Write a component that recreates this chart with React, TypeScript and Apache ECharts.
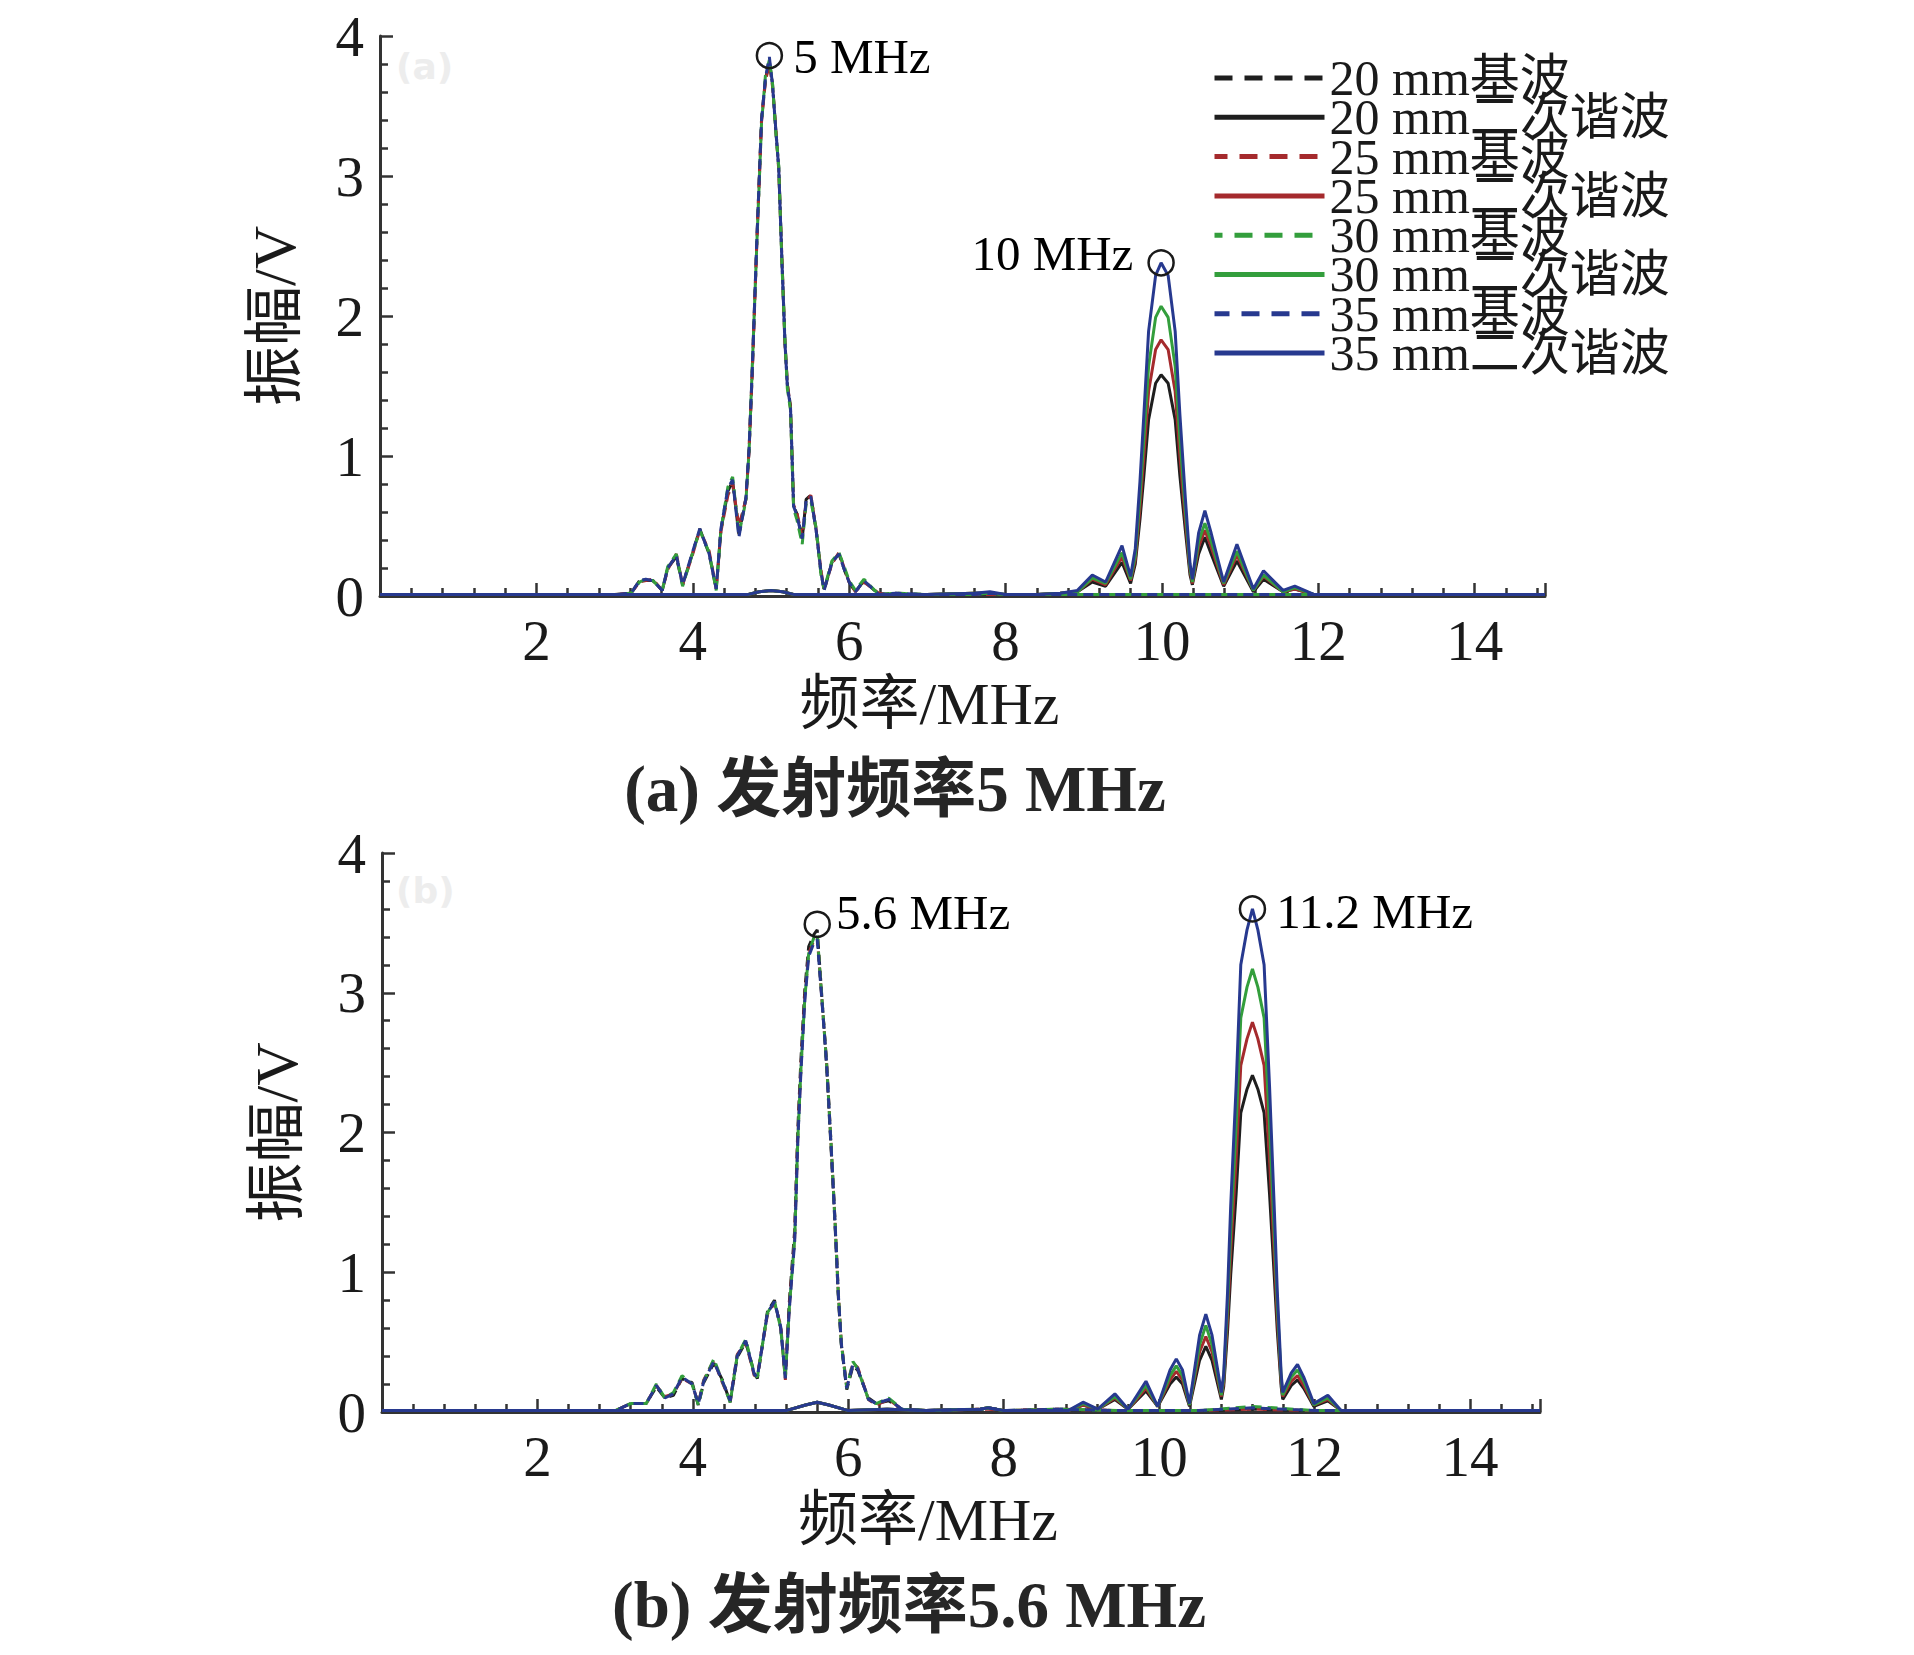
import React, { useEffect, useRef } from "react";
import * as echarts from "echarts";

const seriesNames = [
  "20 mm基波",
  "20 mm二次谐波",
  "25 mm基波",
  "25 mm二次谐波",
  "30 mm基波",
  "30 mm二次谐波",
  "35 mm基波",
  "35 mm二次谐波",
];
const seriesColors = ["#1e1e1e", "#1e1e1e", "#a52a2d", "#a52a2d", "#339e3c", "#339e3c", "#27398f", "#27398f"];

const xTicks = [2, 4, 6, 8, 10, 12, 14];
const yTicks = [0, 1, 2, 3, 4];

// ---------- Panel (a): transmit 5 MHz ----------
const fundFreqA = [0, 1.0, 2.0, 3.0, 3.21, 3.32, 3.4, 3.49, 3.61, 3.68, 3.79, 3.87, 4.0, 4.09, 4.21, 4.30, 4.36, 4.45, 4.51, 4.59, 4.68, 4.72, 4.76, 4.82, 4.88, 4.93, 4.98, 5.02, 5.06, 5.1, 5.14, 5.18, 5.21, 5.25, 5.29, 5.33, 5.40, 5.45, 5.51, 5.58, 5.64, 5.68, 5.78, 5.87, 5.95, 6.0, 6.08, 6.19, 6.38, 6.6, 7.0, 7.6, 7.8, 8.0, 8.6, 9.5, 10.0, 11.0, 12.0, 13.0, 14.9];
const fund20A = [0.01,0.01,0.01,0.01,0.02,0.11,0.11,0.11,0.04,0.2, 0.28,0.08,0.31,0.48,0.3,0.05,0.47,0.75,0.82,0.44, 0.7,1.04,1.59,2.54,3.41,3.69,3.82,3.66,3.34,3.06, 2.41,1.81,1.51,1.36,0.64,0.59,0.41,0.69,0.72,0.46, 0.17,0.04,0.24,0.3,0.17,0.1,0.03,0.11,0.01,0.02, 0.01,0.01,0.02,0.01,0.01,0.01,0.01,0.01,0.01,0.01, 0.01];
const fund25A = [0.01,0.01,0.01,0.01,0.02,0.1,0.11,0.12,0.04,0.19, 0.3,0.08,0.3,0.47,0.32,0.05,0.46,0.72,0.8,0.5, 0.69,1.04,1.58,2.53,3.39,3.68,3.8,3.64,3.36,3.04, 2.42,1.79,1.52,1.34,0.65,0.6,0.42,0.67,0.72,0.47, 0.18,0.05,0.23,0.31,0.18,0.1,0.03,0.1,0.02,0.01, 0.01,0.01,0.01,0.01,0.01,0.01,0.01,0.01,0.01,0.01, 0.01];
const fund30A = [0.01,0.01,0.01,0.01,0.02,0.1,0.12,0.11,0.04,0.21, 0.3,0.07,0.31,0.47,0.31,0.04,0.47,0.78,0.85,0.44, 0.68,1.03,1.62,2.52,3.38,3.72,3.83,3.66,3.33,3.07, 2.38,1.82,1.48,1.33,0.62,0.55,0.37,0.66,0.68,0.48, 0.15,0.05,0.25,0.31,0.19,0.11,0.04,0.12,0.01,0.02, 0.01,0.01,0.02,0.01,0.01,0.01,0.01,0.01,0.01,0.01, 0.01];
const fund35A = [0.01,0.01,0.01,0.01,0.02,0.11,0.12,0.11,0.04,0.2, 0.29,0.08,0.32,0.48,0.3,0.05,0.48,0.77,0.83,0.42, 0.7,1.05,1.6,2.55,3.4,3.7,3.85,3.65,3.35,3.05, 2.4,1.8,1.5,1.35,0.64,0.58,0.41,0.68,0.71,0.46, 0.17,0.04,0.24,0.3,0.17,0.1,0.03,0.11,0.01,0.02, 0.01,0.01,0.02,0.01,0.01,0.01,0.01,0.01,0.01,0.01, 0.01];

const harmFreqA = [0, 2.0, 4.0, 4.7, 4.85, 5.0, 5.15, 5.3, 5.6, 6.2, 7.0, 7.6, 7.8, 8.0, 8.4, 8.7, 8.92, 9.11, 9.28, 9.49, 9.6, 9.66, 9.72, 9.77, 9.83, 9.92, 9.99, 10.08, 10.17, 10.23, 10.30, 10.36, 10.39, 10.47, 10.55, 10.63, 10.79, 10.96, 11.17, 11.30, 11.55, 11.70, 11.95, 12.5, 13.5, 14.9];
const harm20A = [0.01,0.01,0.01,0.01,0.03,0.04,0.03,0.01,0.01,0.01, 0.01,0.02,0.02,0.01,0.01,0.02,0.03,0.1,0.07,0.24, 0.09,0.23,0.55,0.86,1.26,1.52,1.58,1.52,1.26,0.86, 0.47,0.15,0.08,0.3,0.42,0.3,0.07,0.25,0.03,0.12, 0.03,0.05,0.01,0.01,0.01,0.01];
const harm25A = [0.01,0.01,0.01,0.01,0.03,0.04,0.03,0.01,0.01,0.01, 0.01,0.02,0.02,0.01,0.01,0.02,0.03,0.12,0.08,0.28, 0.11,0.26,0.63,1.0,1.46,1.76,1.83,1.76,1.46,1.0, 0.54,0.18,0.09,0.35,0.47,0.35,0.08,0.29,0.04,0.14, 0.03,0.05,0.01,0.01,0.01,0.01];
const harm30A = [0.01,0.01,0.01,0.01,0.03,0.04,0.03,0.01,0.01,0.01, 0.01,0.02,0.02,0.01,0.01,0.02,0.03,0.13,0.09,0.31, 0.12,0.29,0.71,1.13,1.64,1.99,2.07,1.99,1.64,1.13, 0.61,0.2,0.1,0.39,0.52,0.39,0.09,0.32,0.04,0.15, 0.03,0.06,0.01,0.01,0.01,0.01];
const harm35A = [0.01,0.01,0.01,0.01,0.03,0.04,0.03,0.01,0.01,0.01, 0.01,0.02,0.03,0.01,0.01,0.02,0.04,0.15,0.1,0.36, 0.14,0.34,0.82,1.3,1.89,2.29,2.38,2.29,1.89,1.3, 0.7,0.23,0.12,0.45,0.61,0.45,0.1,0.37,0.05,0.18, 0.04,0.07,0.01,0.01,0.01,0.01];

const peakFreqA = [4.98, 9.99];
const peakAmpA = [3.86, 2.38];
const peakTextA = ["5 MHz", "10 MHz"];

// ---------- Panel (b): transmit 5.6 MHz ----------
const fundFreqB = [0, 1.0, 2.0, 3.0, 3.2, 3.4, 3.53, 3.64, 3.75, 3.86, 3.99, 4.07, 4.14, 4.27, 4.38, 4.48, 4.57, 4.68, 4.79, 4.83, 4.96, 5.05, 5.13, 5.19, 5.24, 5.31, 5.35, 5.39, 5.44, 5.49, 5.56, 5.60, 5.65, 5.72, 5.78, 5.83, 5.87, 5.91, 5.98, 6.06, 6.12, 6.26, 6.36, 6.52, 6.69, 7.0, 7.7, 7.8, 8.0, 8.7, 9.5, 10.5, 11.2, 12.0, 13.0, 14.9];
const fund20B = [0.01,0.01,0.01,0.01,0.06,0.06,0.18,0.1,0.12,0.24, 0.21,0.05,0.21,0.35,0.23,0.07,0.39,0.5,0.28,0.24, 0.72,0.8,0.6,0.25,0.78,1.3,2.02,2.52,3.02,3.33, 3.42,3.45,3.05,2.48,1.87,1.33,0.84,0.48,0.16,0.33, 0.3,0.1,0.06,0.08,0.02,0.01,0.02,0.03,0.01,0.02, 0.01,0.01,0.02,0.01,0.01,0.01];
const fund25B = [0.01,0.01,0.01,0.01,0.06,0.06,0.19,0.11,0.13,0.24, 0.2,0.06,0.23,0.37,0.21,0.08,0.41,0.5,0.26,0.26, 0.7,0.78,0.62,0.23,0.75,1.25,1.97,2.46,2.97,3.28, 3.38,3.4,3.03,2.51,1.9,1.36,0.87,0.5,0.18,0.35, 0.32,0.09,0.05,0.09,0.02,0.01,0.02,0.02,0.01,0.02, 0.01,0.01,0.02,0.01,0.01,0.01];
const fund30B = [0.01,0.01,0.01,0.01,0.06,0.06,0.2,0.1,0.14,0.26, 0.2,0.05,0.22,0.38,0.22,0.07,0.4,0.52,0.27,0.25, 0.71,0.79,0.6,0.24,0.74,1.24,1.95,2.45,2.96,3.28, 3.4,3.42,3.04,2.5,1.9,1.35,0.86,0.49,0.17,0.36, 0.31,0.09,0.06,0.1,0.02,0.01,0.02,0.03,0.01,0.02, 0.01,0.01,0.04,0.01,0.01,0.01];
const fund35B = [0.01,0.01,0.01,0.01,0.06,0.06,0.19,0.1,0.13,0.25, 0.2,0.06,0.22,0.36,0.22,0.08,0.4,0.51,0.27,0.25, 0.71,0.79,0.61,0.24,0.73,1.22,1.94,2.43,2.94,3.26, 3.36,3.38,3.02,2.5,1.89,1.35,0.86,0.49,0.17,0.34, 0.31,0.09,0.06,0.09,0.02,0.01,0.02,0.03,0.01,0.02, 0.01,0.01,0.03,0.01,0.01,0.01];

const harmFreqB = [0, 2.0, 4.0, 5.2, 5.45, 5.6, 5.75, 6.0, 6.5, 7.0, 7.7, 7.8, 8.0, 8.5, 8.83, 9.02, 9.21, 9.43, 9.6, 9.83, 9.98, 10.14, 10.22, 10.3, 10.39, 10.52, 10.6, 10.68, 10.8, 10.83, 10.88, 10.92, 10.99, 11.05, 11.13, 11.2, 11.27, 11.35, 11.42, 11.48, 11.52, 11.57, 11.59, 11.7, 11.78, 11.86, 11.99, 12.17, 12.34, 13.0, 14.9];
const harm20B = [0.01,0.01,0.01,0.01,0.05,0.07,0.05,0.01,0.02,0.01, 0.02,0.03,0.01,0.01,0.01,0.05,0.02,0.09,0.02,0.15, 0.04,0.2,0.25,0.2,0.04,0.37,0.47,0.37,0.09,0.18, 0.58,0.98,1.56,2.14,2.31,2.41,2.31,2.14,1.56,0.98, 0.58,0.18,0.09,0.19,0.23,0.17,0.04,0.08,0.01,0.01, 0.01];
const harm25B = [0.01,0.01,0.01,0.01,0.05,0.07,0.05,0.01,0.02,0.01, 0.02,0.03,0.01,0.01,0.01,0.05,0.02,0.1,0.02,0.17, 0.04,0.23,0.29,0.23,0.05,0.43,0.54,0.43,0.11,0.21, 0.67,1.14,1.81,2.48,2.67,2.79,2.67,2.48,1.81,1.14, 0.67,0.21,0.11,0.22,0.26,0.19,0.05,0.09,0.01,0.01, 0.01];
const harm30B = [0.01,0.01,0.01,0.01,0.05,0.07,0.05,0.01,0.02,0.01, 0.02,0.03,0.01,0.01,0.01,0.06,0.02,0.11,0.02,0.19, 0.04,0.26,0.33,0.26,0.05,0.48,0.62,0.48,0.12,0.24, 0.76,1.29,2.05,2.82,3.04,3.17,3.04,2.82,2.05,1.29, 0.76,0.24,0.12,0.25,0.3,0.22,0.05,0.1,0.01,0.01, 0.01];
const harm35B = [0.01,0.01,0.01,0.01,0.05,0.07,0.05,0.01,0.02,0.01, 0.02,0.03,0.01,0.01,0.01,0.07,0.02,0.13,0.02,0.22, 0.04,0.3,0.38,0.3,0.06,0.55,0.7,0.55,0.14,0.27, 0.86,1.47,2.33,3.2,3.45,3.6,3.45,3.2,2.33,1.47, 0.86,0.27,0.14,0.28,0.34,0.25,0.06,0.12,0.01,0.01, 0.01];

const peakFreqB = [5.6, 11.2];
const peakAmpB = [3.49, 3.6];
const peakTextB = ["5.6 MHz", "11.2 MHz"];

const SERIF = "'Liberation Serif', 'Times New Roman', 'Noto Sans CJK SC', serif";
const TEXT_COLOR = "#1a1a1a";
const AXIS_COLOR = "#333";

function zip(xs: number[], ys: number[]) {
  return xs.map((x, i) => [x, ys[i]]);
}

function buildAxes(gridIndex: number) {
  const xAxis = {
    type: "value",
    gridIndex,
    min: 0,
    max: 14.9,
    interval: 2,
    name: "频率/MHz",
    nameLocation: "middle",
    nameGap: 78,
    nameTextStyle: { fontFamily: SERIF, fontSize: 60, color: TEXT_COLOR, padding: [0, 66, 0, 0] },
    axisLine: { show: true, lineStyle: { color: AXIS_COLOR, width: 3 } },
    axisTick: { show: true, inside: true, length: 13, lineStyle: { color: AXIS_COLOR, width: 2.5 } },
    minorTick: { show: true, splitNumber: 5, length: 8, lineStyle: { color: AXIS_COLOR, width: 2.5 } },
    splitLine: { show: false },
    axisLabel: {
      fontFamily: SERIF,
      fontSize: 57,
      color: TEXT_COLOR,
      margin: 16,
      showMinLabel: false,
      formatter: (v: number) => (xTicks.indexOf(v) >= 0 ? String(v) : ""),
    },
  };
  const yAxis = {
    type: "value",
    gridIndex,
    min: 0,
    max: 4,
    interval: 1,
    name: "振幅/V",
    nameLocation: "middle",
    nameGap: 75,
    nameTextStyle: { fontFamily: SERIF, fontSize: 60, color: TEXT_COLOR },
    axisLine: { show: true, lineStyle: { color: AXIS_COLOR, width: 3 } },
    axisTick: { show: true, inside: true, length: 13, lineStyle: { color: AXIS_COLOR, width: 2.5 } },
    minorTick: { show: true, splitNumber: 5, length: 8, lineStyle: { color: AXIS_COLOR, width: 2.5 } },
    splitLine: { show: false },
    axisLabel: {
      fontFamily: SERIF,
      fontSize: 57,
      color: TEXT_COLOR,
      margin: 16,
      formatter: (v: number) => (yTicks.indexOf(v) >= 0 ? String(v) : ""),
    },
  };
  return { xAxis, yAxis };
}

const dashOffsets = [0, 5, 10, 3];

function buildPanelSeries(
  idx: number,
  fundFreq: number[],
  funds: number[][],
  harmFreq: number[],
  harms: number[][],
  peakFreq: number[],
  peakAmp: number[],
  peakText: string[],
  labelCfg: any[]
) {
  const out: any[] = [];
  for (let k = 0; k < 4; k++) {
    out.push({
      type: "line",
      name: seriesNames[2 * k],
      xAxisIndex: idx,
      yAxisIndex: idx,
      data: zip(fundFreq, funds[k]),
      symbol: "none",
      color: seriesColors[2 * k],
      lineStyle: { width: 3, type: [10, 6], dashOffset: dashOffsets[k], color: seriesColors[2 * k] },
      z: 2 + k,
    });
    out.push({
      type: "line",
      name: seriesNames[2 * k + 1],
      xAxisIndex: idx,
      yAxisIndex: idx,
      data: zip(harmFreq, harms[k]),
      symbol: "none",
      color: seriesColors[2 * k + 1],
      lineStyle: { width: 3, type: "solid", color: seriesColors[2 * k + 1] },
      z: 2 + k,
    });
  }
  out.push({
    type: "scatter",
    name: "peaks" + idx,
    xAxisIndex: idx,
    yAxisIndex: idx,
    symbol: "circle",
    symbolSize: 25,
    itemStyle: { color: "rgba(0,0,0,0)", borderColor: "#1a1a1a", borderWidth: 2.5, opacity: 1 },
    z: 10,
    data: peakFreq.map((f, i) => ({
      value: [f, peakAmp[i]],
      name: peakText[i],
      label: {
        show: true,
        formatter: "{b}",
        fontFamily: SERIF,
        fontSize: 49,
        color: "#000",
        opacity: 1,
        textBorderWidth: 0,
        ...labelCfg[i],
      },
    })),
  });
  return out;
}

export default function App() {
  const ref = useRef<HTMLDivElement>(null);
  useEffect(() => {
    if (!ref.current) return;
    const chart = echarts.init(ref.current, null, { renderer: "svg" });
    const a = buildAxes(0);
    const b = buildAxes(1);
    const seriesA = buildPanelSeries(
      0,
      fundFreqA,
      [fund20A, fund25A, fund30A, fund35A],
      harmFreqA,
      [harm20A, harm25A, harm30A, harm35A],
      peakFreqA,
      peakAmpA,
      peakTextA,
      [
        { position: "right", distance: 10, offset: [0, 1] },
        { position: "left", distance: 14, offset: [0, -9] },
      ]
    );
    const seriesB = buildPanelSeries(
      1,
      fundFreqB,
      [fund20B, fund25B, fund30B, fund35B],
      harmFreqB,
      [harm20B, harm25B, harm30B, harm35B],
      peakFreqB,
      peakAmpB,
      peakTextB,
      [
        { position: "right", distance: 5, offset: [0, -12] },
        { position: "right", distance: 10, offset: [0, 3] },
      ]
    );
    chart.setOption({
      animation: false,
      backgroundColor: "#ffffff",
      grid: [
        { left: 380, top: 36, width: 1165, height: 560, show: false },
        { left: 382, top: 853, width: 1158, height: 559, show: false },
      ],
      xAxis: [a.xAxis, b.xAxis],
      yAxis: [a.yAxis, b.yAxis],
      legend: {
        orient: "vertical",
        left: 1212,
        top: 53,
        padding: 0,
        itemGap: -10.7,
        itemWidth: 110,
        itemHeight: 2,
        selectedMode: false,
        itemStyle: { opacity: 0 },
        textStyle: { fontFamily: SERIF, fontSize: 50, color: TEXT_COLOR },
        data: seriesNames.map((n, i) => ({
          name: n,
          itemStyle: { opacity: 0 },
          lineStyle: { width: 5, type: i % 2 === 0 ? [18, 12] : "solid" },
        })),
      },
      graphic: [
        {
          type: "text",
          left: 396,
          top: 48,
          style: { text: "(a)", font: "bold 36px 'DejaVu Sans', sans-serif", fill: "#ededed" },
        },
        {
          type: "text",
          left: 396,
          top: 872,
          style: { text: "(b)", font: "bold 36px 'DejaVu Sans', sans-serif", fill: "#ededed" },
        },
        {
          type: "text",
          x: 895,
          y: 789,
          style: {
            text: "(a) 发射频率5 MHz",
            font: "bold 65px 'Liberation Serif', 'Noto Sans CJK SC', serif",
            fill: "#262626",
            align: "center",
            verticalAlign: "middle",
          },
        },
        {
          type: "text",
          x: 909,
          y: 1605,
          style: {
            text: "(b) 发射频率5.6 MHz",
            font: "bold 65px 'Liberation Serif', 'Noto Sans CJK SC', serif",
            fill: "#262626",
            align: "center",
            verticalAlign: "middle",
          },
        },
      ],
      series: [...seriesA, ...seriesB],
    });
    return () => chart.dispose();
  }, []);
  return (
    <div
      ref={ref}
      style={{ position: "fixed", left: 0, top: 0, width: 1914, height: 1655, background: "#fff" }}
    />
  );
}
